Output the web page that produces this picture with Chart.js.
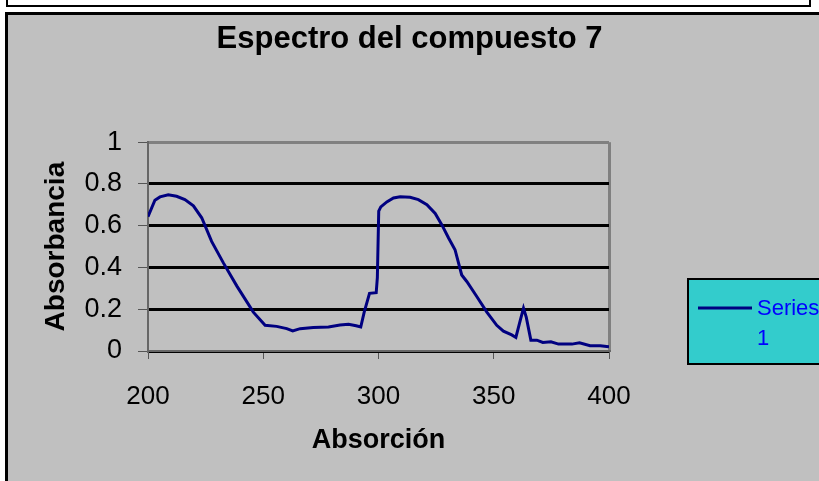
<!DOCTYPE html>
<html>
<head>
<meta charset="utf-8">
<title>Espectro del compuesto 7</title>
<script src="https://cdn.jsdelivr.net/npm/chart.js@4/dist/chart.umd.min.js"></script>
<style>
  html, body { margin: 0; padding: 0; background: #fff; overflow: hidden; }
  #sheet { position: relative; width: 819px; height: 481px; overflow: hidden; }
  #prevFrame { position: absolute; left: 6px; top: -31px; width: 801px; height: 34px;
               border: 2px solid #000; background: #fff; }
  #frame { position: absolute; left: 5px; top: 12px; width: 900px; height: 600px;
           border: 3px solid #000; background: #C0C0C0; }
  #chart { position: absolute; left: 0; top: 0; }
</style>
</head>
<body>
<div id="sheet">
  <div id="prevFrame"></div>
  <div id="frame"></div>
  <canvas id="chart" width="819" height="481"></canvas>
</div>
<script>
// Wavelength (nm) and measured absorbance of compound 7
const wavelength = [200, 203, 205.2, 208.8, 212.4, 216, 219.7, 223.3, 227.6, 232.7,
  238.5, 245.7, 250.8, 255.8, 260.2, 262.8, 266, 271.7, 278.3, 283.3,
  287, 290.3, 292.3, 293.8, 296.1, 299, 299.5, 300.1, 301, 303.6,
  306.5, 309.4, 313.7, 317.3, 321, 324.6, 327.5, 330.4, 333.2, 336.1,
  338.3, 342.7, 347, 351.3, 354.2, 357.8, 359.6, 361.5, 362.9, 364.1,
  366.1, 368.7, 371.3, 374.8, 378.1, 383.9, 387.2, 391.8, 396.2, 400];
const absorbance = [0.643, 0.722, 0.738, 0.748, 0.741, 0.725, 0.695, 0.638, 0.525, 0.422,
  0.312, 0.186, 0.123, 0.118, 0.107, 0.096, 0.107, 0.112, 0.115, 0.124,
  0.128, 0.121, 0.115, 0.186, 0.276, 0.279, 0.351, 0.67, 0.69, 0.714,
  0.733, 0.739, 0.736, 0.725, 0.701, 0.659, 0.604, 0.541, 0.485, 0.364,
  0.333, 0.26, 0.186, 0.123, 0.095, 0.077, 0.065, 0.147, 0.205, 0.162,
  0.052, 0.052, 0.041, 0.044, 0.033, 0.033, 0.039, 0.025, 0.025, 0.02];
const seriesName = 'Series 1';
const xTickLabels = ['200', '250', '300', '350', '400'];
const yTickLabels = ['0', '0.2', '0.4', '0.6', '0.8', '1'];

const FONT = '"Liberation Sans", Arial, sans-serif';
Chart.defaults.font.family = FONT;
Chart.defaults.color = '#000';

const points = wavelength.map((w, i) => ({ x: w, y: absorbance[i] }));

// Boxed legend at the right, wrapping the series name onto two lines
const boxLegend = {
  id: 'boxLegend',
  afterDraw(chart) {
    const ctx = chart.ctx;
    const ds = chart.data.datasets[0];
    const x = 688, y = 279, w = 160, h = 85;
    ctx.save();
    ctx.fillStyle = '#33CCCC';
    ctx.fillRect(x, y, w, h);
    ctx.lineWidth = 2;
    ctx.strokeStyle = '#000';
    ctx.strokeRect(x, y, w, h);
    ctx.beginPath();
    ctx.moveTo(x + 10, 308);
    ctx.lineTo(x + 64, 308);
    ctx.lineWidth = 3;
    ctx.strokeStyle = ds.borderColor;
    ctx.stroke();
    ctx.fillStyle = '#0000FF';
    ctx.font = '22px ' + FONT;
    ctx.textBaseline = 'middle';
    ctx.textAlign = 'left';
    ds.label.split(' ').forEach((part, i) => ctx.fillText(part, x + 69, 309 + i * 30));
    ctx.restore();
  }
};

new Chart(document.getElementById('chart'), {
  type: 'line',
  data: {
    datasets: [{
      label: seriesName,
      data: points,
      borderColor: '#000080',
      borderWidth: 3,
      pointRadius: 0,
      tension: 0,
      fill: false
    }]
  },
  options: {
    responsive: false,
    animation: false,
    devicePixelRatio: 1,
    layout: { padding: 0 },
    plugins: {
      legend: { display: false },
      tooltip: { enabled: false },
      title: {
        display: true,
        text: 'Espectro del compuesto 7',
        color: '#000',
        font: { size: 31, weight: 'bold', family: FONT },
        padding: { top: 21, bottom: 84 }
      }
    },
    scales: {
      x: {
        type: 'linear',
        min: 200, max: 400,
        afterFit(scale) { scale.height = 130; },
        ticks: {
          stepSize: 50,
          color: '#000',
          font: { size: 26 },
          padding: 22,
          maxRotation: 0,
          callback: (v, i) => xTickLabels[i]
        },
        grid: {
          drawOnChartArea: true,
          color: (c) => (c.tick && c.tick.value === 400) ? '#808080' : 'rgba(0,0,0,0)',
          lineWidth: 3,
          tickColor: '#555',
          tickLength: 8,
          tickWidth: 1
        },
        border: { display: true, color: '#666', width: 2 },
        title: {
          display: true,
          text: 'Absorción',
          color: '#000',
          font: { size: 27, weight: 'bold' },
          padding: { top: 0, bottom: 24 }
        }
      },
      y: {
        min: 0, max: 1,
        afterFit(scale) { scale.width = 148; },
        ticks: {
          stepSize: 0.2,
          color: '#000',
          font: { size: 27 },
          padding: 16,
          callback: (v, i) => yTickLabels[i]
        },
        grid: {
          color: (c) => (c.tick && Math.abs(c.tick.value - 1) < 1e-6) ? '#808080' : '#000',
          lineWidth: 3,
          tickColor: '#555',
          tickLength: 10,
          tickWidth: 1
        },
        border: { display: true, color: '#666', width: 2 },
        title: {
          display: true,
          text: 'Absorbancia',
          color: '#000',
          font: { size: 28, weight: 'bold' },
          padding: { top: 39, bottom: 0 }
        }
      },
      // Empty right-hand axis that reserves the space where the legend sits
      legendSpace: {
        position: 'right',
        display: true,
        afterFit(scale) { scale.width = 210; },
        grid: { display: false, drawTicks: false },
        border: { display: false },
        ticks: { display: false }
      }
    }
  },
  plugins: [boxLegend]
});
</script>
</body>
</html>
